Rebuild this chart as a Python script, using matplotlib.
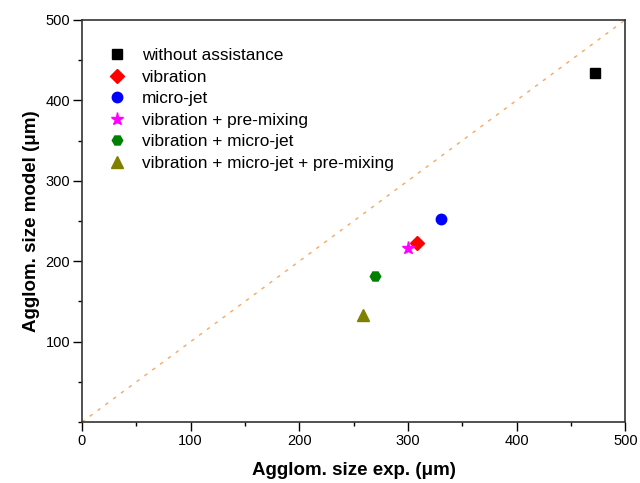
import matplotlib
matplotlib.use("Agg")
import matplotlib.pyplot as plt
from matplotlib.ticker import MultipleLocator

plt.rcParams['font.family'] = ['Liberation Sans', 'DejaVu Sans']

# data
labels = ['without assistance', 'vibration', 'micro-jet',
          'vibration + pre-mixing', 'vibration + micro-jet',
          'vibration + micro-jet + pre-mixing']
size_exp = [472, 308, 330, 300, 270, 259]
size_model = [434, 223, 252, 217, 181, 133]
markers = ['s', 'D', 'o', '*', 'H', '^']
colors = ['black', 'red', 'blue', 'magenta', 'green', 'olive']
msizes = [7, 7, 7.5, 9.5, 7.5, 8]

fig = plt.figure(figsize=(6.4, 4.83), dpi=100)
ax = fig.add_axes([0.128, 0.126, 0.849, 0.833])

# 1:1 line
ax.plot([0, 500], [0, 500], linestyle=(0, (2.5, 4.5)), color='#f7a860', lw=1)

for x, y, lab, m, c, s in zip(size_exp, size_model, labels, markers, colors, msizes):
    ax.plot(x, y, linestyle='none', marker=m, color=c, markersize=s, label=lab)

ax.set_xlim(0, 500)
ax.set_ylim(0, 500)
ax.set_xticks([0, 100, 200, 300, 400, 500])
ax.set_yticks([100, 200, 300, 400, 500])
ax.xaxis.set_minor_locator(MultipleLocator(50))
ax.yaxis.set_minor_locator(MultipleLocator(50))
ax.tick_params(which='major', length=6.5, width=1, labelsize=10.5, pad=2)
ax.tick_params(which='minor', length=3, width=1)
for sp in ax.spines.values():
    sp.set_linewidth(1.2)
    sp.set_color('#333333')

ax.set_xlabel('Agglom. size exp. (μm)', fontsize=13.5, fontweight='bold', labelpad=10)
ax.set_ylabel('Agglom. size model (μm)', fontsize=13.5, fontweight='bold', labelpad=4)

ax.legend(loc='upper left', bbox_to_anchor=(0.011, 0.96), frameon=False,
          fontsize=12.4, handletextpad=0.45, labelspacing=0.38, borderaxespad=0.3)

fig.savefig('out.png', dpi=100)
